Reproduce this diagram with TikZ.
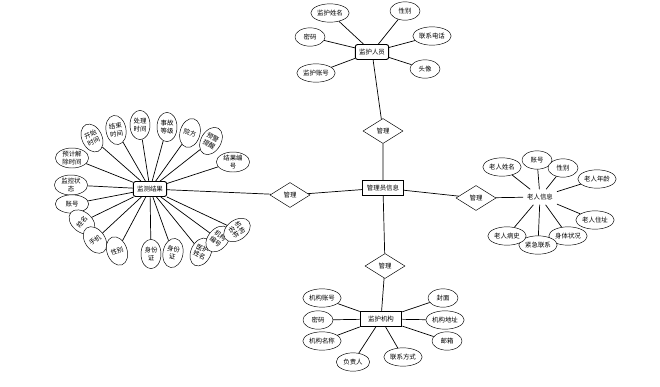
\documentclass[tikz,border=0pt]{standalone}
\usepackage{fontspec}
\setmainfont{Noto Sans CJK SC}
\usepackage{tikz}
\usetikzlibrary{positioning,shapes.geometric}
\tikzset{
    % entity and relation styles
    entity/.style={rectangle, draw, minimum width=1.0cm, minimum height=0.45cm, inner sep=1pt, fill=white},
    relation/.style={diamond, draw, aspect=1.6, minimum width=1.2cm, minimum height=0.75cm, inner sep=0pt, fill=white},
    % attribute styles
    attr/.style={ellipse, draw, minimum width=1.15cm, minimum height=0.55cm, inner sep=0pt, fill=white},
    vattr/.style={ellipse, draw, minimum width=0.6cm, minimum height=0.88cm, inner sep=0pt, align=center, fill=white},
    link/.style={draw, semithick},
}
\begin{document}
\begin{tikzpicture}[x=0.03cm, y=-0.03cm, font=\fontsize{5.5}{6.5}\selectfont]
    \useasboundingbox (0,0) rectangle (660,387);

    % Entities
    \node[entity, thick, rounded corners=2pt] (guard) at (372,52) {监护人员};
    \node[entity, semithick, minimum width=1.25cm] (admin) at (383,188) {管理员信息};
    \node[entity, thick, rounded corners=2pt] (result) at (150,189) {监测结果};
    \node[entity, double] (elder) at (540,197) {老人信息};
    \node[entity, thick, minimum width=1.25cm] (org) at (381,319) {监护机构};

    % Relations
    \node[relation] (rtop) at (383,131) {管理};
    \node[relation] (rleft) at (290,195) {管理};
    \node[relation] (rright) at (476,198) {管理};
    \node[relation] (rbot) at (385,266) {管理};

    \draw[link] (guard) -- (rtop) -- (admin);
    \draw[link] (result) -- (rleft) -- (admin);
    \draw[link] (admin) -- (rright) -- (elder);
    \draw[link] (admin) -- (rbot) -- (org);

    % Guard attributes
    \node[attr] (g1) at (330,13) {监护姓名};
    \node[attr, minimum width=0.9cm] (g2) at (405,11) {性别};
    \node[attr, minimum width=0.9cm] (g3) at (310,37) {密码};
    \node[attr] (g4) at (432,36) {联系电话};
    \node[attr] (g5) at (316,73) {监护账号};
    \node[attr, minimum width=0.9cm] (g6) at (425,69) {头像};
    \foreach \a in {g1,g2,g3,g4,g5,g6} {
        \draw[link] (guard) -- (\a);
    }

    % Elder attributes
    \node[attr] (e1) at (502,167) {老人姓名};
    \node[attr, minimum width=0.9cm] (e2) at (537,160) {账号};
    \node[attr, minimum width=0.9cm] (e3) at (563,168) {性别};
    \node[attr] (e4) at (597,179) {老人年龄};
    \node[attr] (e5) at (595,220) {老人住址};
    \node[attr] (e6) at (568,236) {身体状况};
    \node[attr] (e7) at (538,245) {紧急联系};
    \node[attr] (e8) at (507,236) {老人病史};
    \foreach \a in {e1,e2,e3,e4,e5,e6,e7,e8} {
        \draw[link] (elder) -- (\a);
    }

    % Organisation attributes
    \node[attr] (o1) at (322,298) {机构账号};
    \node[attr, minimum width=0.9cm] (o2) at (318,320) {密码};
    \node[attr] (o3) at (322,341) {机构名称};
    \node[attr, minimum width=1.0cm] (o4) at (353,362) {负责人};
    \node[attr] (o5) at (403,357) {联系方式};
    \node[attr, minimum width=0.9cm] (o6) at (443,298) {封面};
    \node[attr] (o7) at (445,320) {机构地址};
    \node[attr, minimum width=0.9cm] (o8) at (447,341) {邮箱};
    \foreach \a in {o1,o2,o3,o4,o5,o6,o7,o8} {
        \draw[link] (org) -- (\a);
    }

    % Result attributes
    \node[attr, align=center, minimum width=1.0cm, minimum height=0.6cm] (r1) at (72,158) {预计解\\除时间};
    \node[vattr, rotate=25] (r2) at (92,138) {开始\\时间};
    \node[vattr, rotate=10] (r3) at (116,130) {结束\\时间};
    \node[vattr] (r4) at (140,125) {处理\\时间};
    \node[vattr] (r5) at (167,127) {事故\\等级};
    \node[vattr, rotate=-15] (r6) at (190,133) {院方};
    \node[vattr, rotate=-30] (r7) at (211,141) {预警\\提醒};
    \node[attr, align=center, minimum width=1.0cm, minimum height=0.6cm] (r8) at (233,162) {结果编\\号};
    \node[attr, align=center, minimum width=1.0cm, minimum height=0.6cm] (r9) at (71,185) {监控状\\态};
    \node[attr, minimum width=1.0cm] (r10) at (72,204) {账号};
    \node[vattr, rotate=50] (r11) at (82,222) {姓名};
    \node[vattr, rotate=35] (r12) at (95,240) {手机};
    \node[vattr, rotate=20] (r13) at (117,251) {性别};
    \node[vattr] (r14) at (151,254) {身份\\证};
    \node[vattr, rotate=-10] (r15) at (173,253) {身份\\证};
    \node[vattr, rotate=-25] (r16) at (201,252) {医护\\姓名};
    \node[vattr, rotate=-40] (r17) at (218,239) {机构\\编号};
    \node[vattr, rotate=-55] (r18) at (237,230) {机构\\名称};
    \foreach \a in {r1,r2,r3,r4,r5,r6,r7,r8,r9,r10,r11,r12,r13,r14,r15,r16,r17,r18} {
        \draw[link] (result) -- (\a);
    }
\end{tikzpicture}
\end{document}
